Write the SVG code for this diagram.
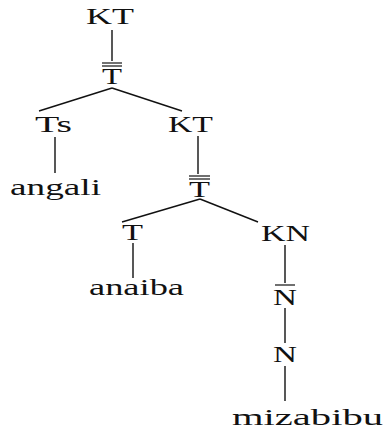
<svg xmlns="http://www.w3.org/2000/svg" width="388" height="432" viewBox="0 0 388 432">
<style>
text{font-family:"Liberation Serif","Times New Roman",serif;font-size:24px;fill:#111;}
.e{stroke:#111;stroke-width:1.4;fill:none;}
.bar{stroke:#111;stroke-width:1.2;}
</style>
<rect width="388" height="432" fill="#fff"/>
<g id="connectors">
<line class="e" x1="112" y1="30" x2="112" y2="61"/>
<line class="e" x1="112" y1="88" x2="39" y2="111"/>
<line class="e" x1="112" y1="88" x2="182" y2="111"/>
<line class="e" x1="55" y1="137" x2="55" y2="173"/>
<line class="e" x1="198" y1="136" x2="198" y2="174"/>
<line class="e" x1="200" y1="199" x2="122" y2="222"/>
<line class="e" x1="200" y1="199" x2="258" y2="222"/>
<line class="e" x1="133" y1="243" x2="133" y2="278"/>
<line class="e" x1="285" y1="245" x2="285" y2="283"/>
<line class="e" x1="285" y1="308" x2="285" y2="343"/>
<line class="e" x1="285" y1="366" x2="285" y2="401"/>
</g>
<g id="n-kt1"><text x="86" y="24" textLength="48" lengthAdjust="spacingAndGlyphs">KT</text></g>
<g id="n-tbar1">
<line class="bar" x1="102" y1="63" x2="122" y2="63"/>
<line class="bar" x1="102" y1="66" x2="122" y2="66"/>
<text x="102" y="84" textLength="20" lengthAdjust="spacingAndGlyphs">T</text>
</g>
<g id="n-ts"><text x="35" y="132" textLength="37" lengthAdjust="spacingAndGlyphs">Ts</text></g>
<g id="n-angali"><text x="10" y="195" textLength="91" lengthAdjust="spacingAndGlyphs">angali</text></g>
<g id="n-kt2"><text x="168" y="132" textLength="45" lengthAdjust="spacingAndGlyphs">KT</text></g>
<g id="n-tbar2">
<line class="bar" x1="189" y1="176" x2="210" y2="176"/>
<line class="bar" x1="189" y1="179" x2="210" y2="179"/>
<text x="189" y="197" textLength="21" lengthAdjust="spacingAndGlyphs">T</text>
</g>
<g id="n-t"><text x="122" y="240" textLength="21" lengthAdjust="spacingAndGlyphs">T</text></g>
<g id="n-anaiba"><text x="89" y="295" textLength="95" lengthAdjust="spacingAndGlyphs">anaiba</text></g>
<g id="n-kn"><text x="261" y="241" textLength="49" lengthAdjust="spacingAndGlyphs">KN</text></g>
<g id="n-nbar">
<line class="bar" x1="275" y1="285" x2="295" y2="285"/>
<text x="273" y="305" textLength="24" lengthAdjust="spacingAndGlyphs">N</text>
</g>
<g id="n-n"><text x="273" y="362" textLength="24" lengthAdjust="spacingAndGlyphs">N</text></g>
<g id="n-mizabibu"><text x="232" y="425" textLength="151" lengthAdjust="spacingAndGlyphs">mizabibu</text></g>
</svg>
